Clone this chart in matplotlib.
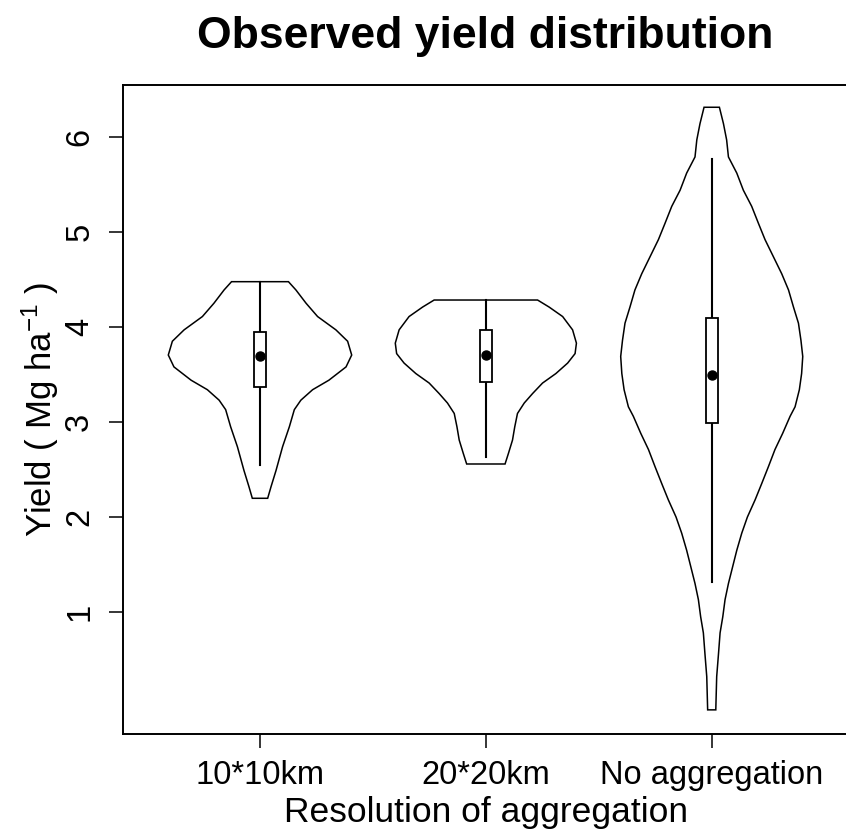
import matplotlib
matplotlib.use("Agg")
import matplotlib.pyplot as plt
import matplotlib.patches as patches

plt.rcParams['font.family'] = ['Liberation Sans', 'DejaVu Sans']
plt.rcParams['mathtext.fontset'] = 'custom'
plt.rcParams['mathtext.rm'] = 'Liberation Sans'
plt.rcParams['mathtext.default'] = 'regular'

# Groups
categories = ['10*10km', '20*20km', 'No aggregation']

# Violin outlines: yield level and half-width of the density
v1_y = [4.477, 4.39, 4.25, 4.11, 3.97, 3.85, 3.705, 3.58, 3.44, 3.34, 3.23,
        3.13, 2.95, 2.74, 2.49, 2.32, 2.197]
v1_w = [0.126, 0.159, 0.204, 0.255, 0.336, 0.388, 0.406, 0.381, 0.305, 0.233,
        0.181, 0.152, 0.130, 0.100, 0.071, 0.049, 0.034]

v2_y = [4.284, 4.21, 4.11, 3.97, 3.83, 3.72, 3.62, 3.51, 3.41, 3.30, 3.20,
        3.09, 2.95, 2.81, 2.67, 2.558]
v2_w = [0.229, 0.280, 0.340, 0.384, 0.401, 0.395, 0.362, 0.310, 0.251, 0.207,
        0.170, 0.140, 0.128, 0.118, 0.100, 0.085]

v3_y = [6.313, 6.14, 5.97, 5.79, 5.62, 5.44, 5.27, 5.09, 4.92, 4.74, 4.56,
        4.39, 4.21, 4.04, 3.86, 3.69, 3.51, 3.34, 3.16, 3.06, 2.88, 2.71,
        2.53, 2.35, 2.18, 2.00, 1.83, 1.65, 1.48, 1.30, 1.13, 0.95, 0.78,
        0.56, 0.32, -0.03]
v3_w = [0.034, 0.052, 0.066, 0.074, 0.111, 0.140, 0.177, 0.207, 0.236, 0.273,
        0.310, 0.340, 0.362, 0.384, 0.395, 0.403, 0.398, 0.388, 0.369, 0.347,
        0.314, 0.280, 0.251, 0.221, 0.192, 0.158, 0.133, 0.111, 0.093, 0.074,
        0.059, 0.049, 0.037, 0.030, 0.022, 0.018]

# Box statistics
q1 = [3.372, 3.418, 2.985]
q3 = [3.944, 3.968, 4.100]
medians = [3.695, 3.705, 3.495]
whisker_lo = [2.547, 2.628, 1.320]
whisker_hi = [4.477, 4.284, 5.765]

yticks = [1, 2, 3, 4, 5, 6]

violins = [(v1_y, v1_w), (v2_y, v2_w), (v3_y, v3_w)]

fig = plt.figure(figsize=(8.46, 8.32), dpi=100)
ax = fig.add_axes([0.1454, 0.1178, 0.8578, 0.78])

box_half = 0.027
for i, (ys, ws) in enumerate(violins):
    pos = i + 1
    xs = [pos - w for w in ws] + [pos + w for w in ws[::-1]]
    yy = list(ys) + list(ys[::-1])
    ax.fill(xs, yy, facecolor='white', edgecolor='black', linewidth=1.1, zorder=2)
    # whiskers
    ax.plot([pos, pos], [whisker_lo[i], q1[i]], color='black', lw=1.5, zorder=3)
    ax.plot([pos, pos], [q3[i], whisker_hi[i]], color='black', lw=1.5, zorder=3)
    # box
    ax.add_patch(patches.Rectangle((pos - box_half, q1[i]), 2 * box_half, q3[i] - q1[i],
                                   facecolor='white', edgecolor='black', lw=1.3, zorder=4))
    ax.plot(pos, medians[i], 'o', color='black', ms=6.5, zorder=5)

ax.set_xlim(0.3935, 3.6065)
ax.set_ylim(-0.284, 6.547)

ax.set_xticks([1, 2, 3])
ax.set_xticklabels(categories, fontsize=23.5)
ax.set_yticks(yticks)
ax.set_yticklabels([str(t) for t in yticks], fontsize=23.5, rotation=90, va='center')
ax.tick_params(axis='both', length=10, width=1.1, color='black')
ax.tick_params(axis='x', pad=9)
ax.tick_params(axis='y', pad=10)

for sp in ax.spines.values():
    sp.set_linewidth(1.4)
    sp.set_color('black')

ax.set_xlabel('Resolution of aggregation', fontsize=25.5, labelpad=0)
ax.set_ylabel('Yield ( Mg ha$^{-1}$ )', fontsize=25, va='center')
ax.yaxis.set_label_coords(-0.114, 0.5)
ax.xaxis.set_label_coords(0.5, -0.095)

fig.text(485.5 / 846, 1 - 48 / 832, 'Observed yield distribution', ha='center',
         va='baseline', fontsize=32, fontweight='bold')

fig.savefig('out.png', dpi=100, facecolor='white')
